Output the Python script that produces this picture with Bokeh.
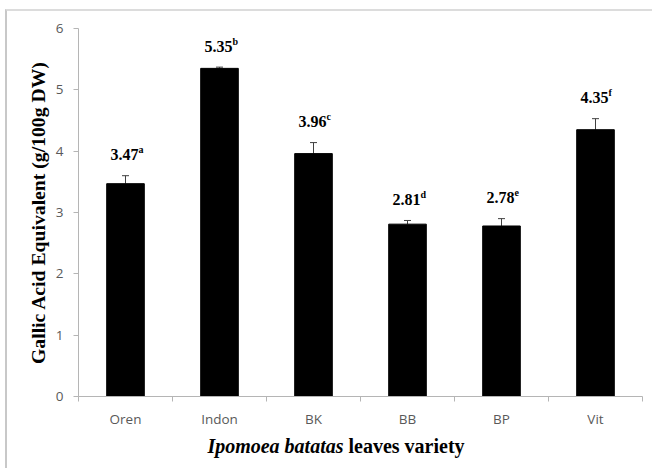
import math
from bokeh.plotting import figure
from bokeh.models import ColumnDataSource, FixedTicker, Range1d, Whisker, TeeHead
from bokeh.core.properties import value
from bokeh.embed import file_html
from bokeh.resources import INLINE

varieties = ["Oren", "Indon", "BK", "BB", "BP", "Vit"]
gae = [3.47, 5.35, 3.96, 2.81, 2.78, 4.35]
sd = [0.13, 0.02, 0.18, 0.06, 0.12, 0.18]
letters = ["a", "b", "c", "d", "e", "f"]
y_ticks = [0, 1, 2, 3, 4, 5, 6]
y_max = 6

n = len(varieties)
xs = [i + 0.5 for i in range(n)]
source = ColumnDataSource(dict(
    x=xs, top=gae, upper=[g + s for g, s in zip(gae, sd)],
    num=[f"{g:.2f}" for g in gae], letter=letters))

# pixel layout: plot area (0..n, 0..y_max) is 564 x 368 px inside a 647 x 459 canvas
W, H = 647, 459
TOP, LEFT, RIGHT = 17, 71, 12
AREA_W, AREA_H = 564, 368
px_x = AREA_W / n
px_y = AREA_H / y_max
x_range = Range1d(-LEFT / px_x, n + RIGHT / px_x)
y_range = Range1d(-(H - TOP - AREA_H) / px_y, y_max + TOP / px_y)

AX = "#b5b5b5"
p = figure(width=W, height=H, x_range=x_range, y_range=y_range,
           output_backend="svg", toolbar_location=None, min_border=0)
p.styles = {"margin-left": "5px", "margin-top": "9px",
            "border-left": "2px solid #c8c8c8", "border-top": "2px solid #dcdcdc"}
p.xgrid.visible = False
p.ygrid.visible = False
p.outline_line_color = None

p.vbar(x="x", top="top", bottom=0, width=0.4, fill_color="black", line_color="black", source=source)
p.add_layout(Whisker(base="x", upper="upper", lower="top", source=source,
                     line_color="#404040", line_width=1,
                     upper_head=TeeHead(size=7, line_color="#404040", line_width=1), lower_head=None))

p.text(x="x", y="upper", text="num", source=source, text_align="center", text_baseline="alphabetic",
       x_offset=-1, y_offset=-21, text_font=value("Liberation Serif"), text_font_style="bold",
       text_font_size="16px", text_color="black")
p.text(x="x", y="upper", text="letter", source=source, text_align="left", text_baseline="alphabetic",
       x_offset=13, y_offset=-26, text_font=value("Liberation Serif"), text_font_style="bold",
       text_font_size="10px", text_color="black")

# y axis at x = 0
p.yaxis.fixed_location = 0
p.yaxis.ticker = FixedTicker(ticks=y_ticks)
p.yaxis.bounds = (0, y_max)
p.yaxis.axis_line_color = AX
p.yaxis.major_tick_line_color = AX
p.yaxis.major_tick_out = 5
p.yaxis.major_tick_in = 0
p.yaxis.minor_tick_line_color = None
p.yaxis.major_label_text_font = "Open Sans"
p.yaxis.major_label_text_font_size = "13.5px"
p.yaxis.major_label_text_color = "#595959"
p.yaxis.major_label_standoff = 10

# x axis at y = 0
p.xaxis.fixed_location = 0
p.xaxis.ticker = FixedTicker(ticks=xs, minor_ticks=list(range(n + 1)))
p.xaxis.bounds = (0, n)
p.xaxis.major_label_overrides = {x: name for x, name in zip(xs, varieties)}
p.xaxis.axis_line_color = AX
p.xaxis.major_tick_line_color = None
p.xaxis.major_tick_out = 0
p.xaxis.major_tick_in = 0
p.xaxis.minor_tick_line_color = AX
p.xaxis.minor_tick_out = 5
p.xaxis.minor_tick_in = 0
p.xaxis.major_label_text_font = "Open Sans"
p.xaxis.major_label_text_font_size = "13.5px"
p.xaxis.major_label_text_color = "#595959"
p.xaxis.major_label_standoff = 8

# y axis title
p.text(x=[0], y=[y_max / 2], text=["Gallic Acid Equivalent (g/100g DW)"], angle=math.pi / 2,
       text_align="center", text_baseline="middle", x_offset=-41,
       text_font=value("Liberation Serif"), text_font_style="bold",
       text_font_size="19.7px", text_color="black")

# x axis title with mixed styles (bold italic species name + bold text)
p.text(x=[n / 2], y=[0], text=["Ipomoea batatas"], text_align="right", text_baseline="middle",
       x_offset=-17, y_offset=49, text_font=value("Liberation Serif"), text_font_style="bold italic",
       text_font_size="20px", text_color="black")
p.text(x=[n / 2], y=[0], text=["leaves variety"], text_align="left", text_baseline="middle",
       x_offset=-12, y_offset=49, text_font=value("Liberation Serif"), text_font_style="bold",
       text_font_size="20px", text_color="black")

open("out.html", "w").write(file_html(p, INLINE))
